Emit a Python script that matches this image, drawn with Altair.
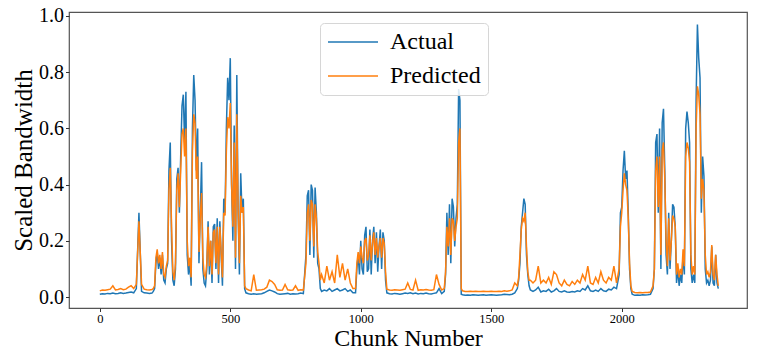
import altair as alt
import pandas as pd

# chunk positions: denser sampling in busy stretches
chunks = (
    list(range(0, 200, 10)) + list(range(200, 560, 5)) + list(range(560, 790, 10))
    + list(range(790, 850, 5)) + list(range(850, 980, 10)) + list(range(980, 1100, 5))
    + list(range(1100, 1320, 10)) + list(range(1320, 1390, 5)) + list(range(1390, 1600, 10))
    + list(range(1600, 1650, 5)) + list(range(1650, 1990, 10)) + list(range(1990, 2040, 5))
    + list(range(2040, 2120, 10)) + list(range(2120, 2371, 5))
)

actual = [
    # 0-190
    0.010, 0.012, 0.011, 0.013, 0.012, 0.014, 0.012, 0.013, 0.015, 0.013,
    0.014, 0.016, 0.018, 0.015, 0.030, 0.300, 0.020, 0.015, 0.014, 0.013,
    # 200-555
    0.014, 0.020, 0.030, 0.120, 0.160, 0.100, 0.140, 0.080, 0.150, 0.060,
    0.050, 0.100, 0.120, 0.450, 0.550, 0.200, 0.060, 0.040, 0.100, 0.420,
    0.460, 0.300, 0.500, 0.680, 0.720, 0.550, 0.730, 0.150, 0.080, 0.120,
    0.040, 0.600, 0.790, 0.700, 0.450, 0.600, 0.120, 0.300, 0.480, 0.100,
    0.050, 0.040, 0.100, 0.270, 0.080, 0.200, 0.050, 0.250, 0.260, 0.100,
    0.280, 0.050, 0.270, 0.150, 0.040, 0.350, 0.300, 0.600, 0.780, 0.700,
    0.850, 0.400, 0.200, 0.610, 0.100, 0.790, 0.300, 0.080, 0.440, 0.300,
    0.350, 0.030,
    # 560-780
    0.015, 0.012, 0.010, 0.012, 0.010, 0.011, 0.012, 0.015, 0.020, 0.025,
    0.022, 0.018, 0.012, 0.010, 0.011, 0.012, 0.013, 0.010, 0.012, 0.011,
    0.012, 0.014, 0.012,
    # 790-845
    0.150, 0.360, 0.380, 0.150, 0.400, 0.380, 0.140, 0.390, 0.300, 0.120,
    0.100, 0.030,
    # 850-970
    0.020, 0.025, 0.022, 0.030, 0.020, 0.025, 0.030, 0.022, 0.025, 0.030,
    0.020, 0.025, 0.015,
    # 980-1095
    0.015, 0.100, 0.150, 0.080, 0.200, 0.100, 0.080, 0.220, 0.250, 0.090,
    0.100, 0.240, 0.080, 0.200, 0.250, 0.120, 0.230, 0.090, 0.180, 0.240,
    0.100, 0.230, 0.200, 0.060,
    # 1100-1310
    0.015, 0.012, 0.011, 0.013, 0.012, 0.010, 0.012, 0.014, 0.013, 0.015,
    0.012, 0.014, 0.011, 0.013, 0.012, 0.014, 0.012, 0.011, 0.013, 0.015,
    0.030, 0.012,
    # 1320-1385
    0.020, 0.080, 0.300, 0.150, 0.330, 0.120, 0.350, 0.320, 0.180, 0.280,
    0.330, 0.740, 0.700, 0.010,
    # 1390-1590
    0.008, 0.006, 0.007, 0.006, 0.008, 0.007, 0.006, 0.007, 0.008, 0.006,
    0.007, 0.008, 0.007, 0.006, 0.007, 0.008, 0.010, 0.009, 0.008, 0.010,
    0.015,
    # 1600-1645
    0.030, 0.060, 0.120, 0.250, 0.300, 0.350, 0.330, 0.150, 0.080, 0.040,
    # 1650-1980
    0.025, 0.020, 0.025, 0.035, 0.018, 0.022, 0.020, 0.028, 0.018, 0.022,
    0.030, 0.020, 0.018, 0.022, 0.018, 0.017, 0.020, 0.018, 0.022, 0.020,
    0.030, 0.025, 0.040, 0.022, 0.020, 0.025, 0.020, 0.030, 0.022, 0.020,
    0.028, 0.025, 0.035, 0.030,
    # 1990-2035
    0.080, 0.300, 0.320, 0.450, 0.520, 0.420, 0.450, 0.300, 0.100, 0.030,
    # 2040-2110
    0.010, 0.006, 0.007, 0.006, 0.008, 0.007, 0.008, 0.010,
    # 2120-2370
    0.030, 0.100, 0.550, 0.580, 0.300, 0.600, 0.100, 0.620, 0.670, 0.450,
    0.150, 0.080, 0.300, 0.100, 0.200, 0.330, 0.320, 0.250, 0.050, 0.100,
    0.040, 0.080, 0.050, 0.150, 0.080, 0.600, 0.660, 0.620, 0.550, 0.100,
    0.050, 0.080, 0.050, 0.700, 0.970, 0.850, 0.780, 0.300, 0.500, 0.430,
    0.100, 0.050, 0.060, 0.040, 0.060, 0.180, 0.050, 0.040, 0.150, 0.050,
    0.030,
]

predicted = [
    # 0-190
    0.022, 0.025, 0.024, 0.026, 0.028, 0.040, 0.025, 0.027, 0.030, 0.026,
    0.028, 0.035, 0.040, 0.030, 0.045, 0.270, 0.045, 0.028, 0.026, 0.025,
    # 200-555
    0.027, 0.030, 0.040, 0.140, 0.170, 0.120, 0.150, 0.100, 0.160, 0.080,
    0.070, 0.110, 0.130, 0.380, 0.460, 0.250, 0.090, 0.060, 0.120, 0.380,
    0.440, 0.320, 0.450, 0.580, 0.600, 0.500, 0.600, 0.200, 0.110, 0.140,
    0.070, 0.520, 0.650, 0.620, 0.420, 0.500, 0.160, 0.280, 0.370, 0.140,
    0.080, 0.070, 0.120, 0.250, 0.110, 0.200, 0.080, 0.230, 0.240, 0.120,
    0.250, 0.080, 0.250, 0.160, 0.070, 0.300, 0.290, 0.520, 0.640, 0.600,
    0.690, 0.400, 0.250, 0.550, 0.140, 0.650, 0.320, 0.120, 0.360, 0.300,
    0.320, 0.040,
    # 560-780
    0.030, 0.025, 0.022, 0.080, 0.024, 0.025, 0.026, 0.028, 0.035, 0.060,
    0.055, 0.045, 0.026, 0.024, 0.025, 0.045, 0.026, 0.024, 0.025, 0.040,
    0.024, 0.026, 0.025,
    # 790-845
    0.120, 0.300, 0.330, 0.200, 0.345, 0.330, 0.180, 0.330, 0.280, 0.160,
    0.120, 0.060,
    # 850-970
    0.080, 0.050, 0.110, 0.060, 0.090, 0.050, 0.150, 0.070, 0.120, 0.060,
    0.100, 0.050, 0.030,
    # 980-1095
    0.030, 0.120, 0.160, 0.120, 0.180, 0.140, 0.120, 0.200, 0.210, 0.130,
    0.150, 0.220, 0.130, 0.190, 0.230, 0.150, 0.210, 0.140, 0.180, 0.210,
    0.140, 0.210, 0.190, 0.090,
    # 1100-1310
    0.028, 0.025, 0.024, 0.026, 0.025, 0.024, 0.026, 0.028, 0.050, 0.027,
    0.025, 0.060, 0.024, 0.026, 0.025, 0.027, 0.025, 0.024, 0.026, 0.080,
    0.045, 0.025,
    # 1320-1385
    0.030, 0.090, 0.250, 0.180, 0.280, 0.150, 0.280, 0.270, 0.200, 0.250,
    0.280, 0.550, 0.600, 0.030,
    # 1390-1590
    0.022, 0.020, 0.020, 0.021, 0.020, 0.021, 0.020, 0.020, 0.021, 0.020,
    0.020, 0.021, 0.020, 0.020, 0.021, 0.020, 0.022, 0.021, 0.022, 0.025,
    0.050,
    # 1600-1645
    0.040, 0.070, 0.150, 0.240, 0.280, 0.270, 0.300, 0.180, 0.090, 0.060,
    # 1650-1980
    0.060, 0.050, 0.060, 0.110, 0.050, 0.060, 0.050, 0.070, 0.045, 0.090,
    0.080, 0.050, 0.040, 0.060, 0.045, 0.040, 0.055, 0.045, 0.060, 0.050,
    0.080, 0.060, 0.110, 0.050, 0.045, 0.070, 0.050, 0.090, 0.060, 0.050,
    0.070, 0.060, 0.110, 0.050,
    # 1990-2035
    0.100, 0.250, 0.300, 0.380, 0.440, 0.400, 0.380, 0.280, 0.120, 0.040,
    # 2040-2110
    0.020, 0.016, 0.015, 0.016, 0.015, 0.016, 0.016, 0.018,
    # 2120-2370
    0.040, 0.100, 0.450, 0.500, 0.320, 0.500, 0.150, 0.520, 0.550, 0.420,
    0.200, 0.110, 0.280, 0.130, 0.200, 0.290, 0.280, 0.250, 0.080, 0.120,
    0.070, 0.100, 0.080, 0.170, 0.110, 0.500, 0.550, 0.530, 0.480, 0.150,
    0.080, 0.110, 0.080, 0.600, 0.750, 0.720, 0.650, 0.350, 0.420, 0.380,
    0.150, 0.080, 0.090, 0.070, 0.090, 0.185, 0.080, 0.060, 0.150, 0.080,
    0.040,
]

series_names = ["Actual", "Predicted"]
series_colors = ["#1f77b4", "#ff7f0e"]
x_ticks = [0, 500, 1000, 1500, 2000]
y_ticks = [0.0, 0.2, 0.4, 0.6, 0.8, 1.0]

n = min(len(chunks), len(actual), len(predicted))
df = pd.DataFrame({
    "chunk": chunks[:n] * 2,
    "value": actual[:n] + predicted[:n],
    "series": ["Actual"] * n + ["Predicted"] * n,
    "order": list(range(n)) * 2,
})

FONT = "Times New Roman, Liberation Serif, serif"

chart = alt.Chart(df).mark_line(strokeWidth=1.5, clip=True).encode(
    x=alt.X("chunk:Q",
            scale=alt.Scale(domain=[-118, 2480], nice=False, zero=False),
            axis=alt.Axis(title="Chunk Number", values=x_ticks, format="d",
                          labelFont=FONT, titleFont=FONT, tickSize=3.5,
                          labelPadding=1,
                          labelFontSize=12.5, titleFontSize=24, titlePadding=1)),
    y=alt.Y("value:Q",
            scale=alt.Scale(domain=[-0.039, 1.0142], nice=False, zero=False),
            axis=alt.Axis(title="Scaled Bandwidth", values=y_ticks, format=".1f",
                          labelFont=FONT, titleFont=FONT, tickSize=3.5,
                          labelPadding=2,
                          labelFontSize=20, titleFontSize=25, titlePadding=2)),
    color=alt.Color("series:N",
                    scale=alt.Scale(domain=series_names, range=series_colors),
                    legend=alt.Legend(
                        title=None, orient="none", legendX=251, legendY=11,
                        symbolType="M-5,0H5", symbolSize=100,
                        symbolStrokeWidth=1.5, labelFontSize=24, labelFont=FONT,
                        labelOffset=25, symbolOffset=14, padding=7,
                        rowPadding=10, fillColor="rgba(255,255,255,0.85)",
                        strokeColor="#d6d6d6", cornerRadius=4,
                        labelColor="black")),
    order=alt.Order("order:Q"),
).properties(
    width=678, height=296,
    autosize=alt.AutoSizeParams(type="none"),
    padding={"left": 61, "top": 4, "right": 3, "bottom": 43},
).configure_view(
    stroke="#555555", strokeWidth=1.2
).configure_axis(
    grid=False, domain=False, tickColor="#333333",
    labelFont=FONT, titleFont=FONT, labelColor="black", titleColor="black",
    titleFontWeight="normal",
)

chart.save("out.html", embed_options={"renderer": "svg", "actions": False})
